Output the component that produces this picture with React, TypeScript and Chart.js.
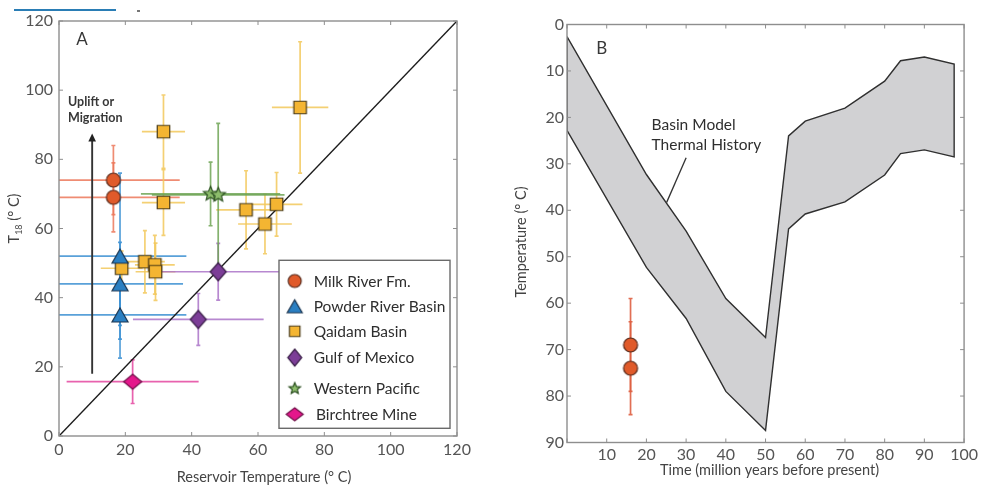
import { useEffect, useRef } from 'react';
import { Chart, registerables } from 'chart.js';

Chart.register(...registerables);

const FONT = 'Lato, "Open Sans", "Liberation Sans", sans-serif';
const TICK_COLOR = '#555';
const TEXT_COLOR = '#383838';
const FRAME_COLOR = '#8e8e8e';

type Obs = { x: number; y: number; xErr: number; yErr: number };

// ---------- Panel A: clumped-isotope temperature vs reservoir temperature (°C)
const milkRiver: Obs[] = [
  { x: 16.4, y: 74, xErr: 20, yErr: 10 },
  { x: 16.4, y: 69, xErr: 20, yErr: 10 },
];
const powderRiver: Obs[] = [
  { x: 18.4, y: 52, xErr: 20, yErr: 24 },
  { x: 18.4, y: 44, xErr: 19, yErr: 12 },
  { x: 18.4, y: 35, xErr: 20, yErr: 12.5 },
];
const qaidam: Obs[] = [
  { x: 31.5, y: 88, xErr: 6.5, yErr: 10.6 },
  { x: 31.5, y: 67.5, xErr: 6.5, yErr: 9.5 },
  { x: 72.7, y: 95, xErr: 8.5, yErr: 19 },
  { x: 56.4, y: 65.4, xErr: 9, yErr: 11.3 },
  { x: 62.1, y: 61.3, xErr: 8.1, yErr: 8.6 },
  { x: 65.6, y: 67, xErr: 7.8, yErr: 9.2 },
  { x: 18.9, y: 48.5, xErr: 6.3, yErr: 5 },
  { x: 25.9, y: 50.4, xErr: 6, yErr: 9 },
  { x: 28.9, y: 49.5, xErr: 6, yErr: 8.5 },
  { x: 29.1, y: 47.5, xErr: 6, yErr: 8.3 },
];
const gulfOfMexico: Obs[] = [
  { x: 48, y: 47.5, xErr: 20, yErr: 8.2 },
  { x: 42, y: 33.7, xErr: 19.7, yErr: 7.5 },
];
const westernPacific: Obs[] = [
  { x: 45.7, y: 70, xErr: 21, yErr: 9.2 },
  { x: 48, y: 69.7, xErr: 20, yErr: 20.7 },
];
const birchtreeMine: Obs[] = [{ x: 22.2, y: 15.7, xErr: 19.9, yErr: 6.3 }];

const seriesNames = [
  'Milk River Fm.',
  'Powder River Basin',
  'Qaidam Basin',
  'Gulf of Mexico',
  'Western Pacific',
  'Birchtree Mine',
];
const parityLine = [0, 120];
const upliftArrow = { x: 10, from: 18, to: 87.5 };
const upliftLabel = ['Uplift or', 'Migration'];

// ---------- Panel B: basin-model thermal history (depth band) vs time
const modelTime = [0, 20, 30, 40, 50, 55.8, 60, 70, 80, 84, 90, 97.5];
const modelShallowTemp = [2.6, 32.3, 44.5, 59, 67.4, 24, 20.8, 18, 12.2, 7.8, 7, 8.5];
const modelDeepTemp = [22.8, 52.3, 63.3, 79, 87.4, 44, 40.8, 38.2, 32.4, 27.8, 27, 28.5];
const milkRiverAge = [16, 16];
const milkRiverTemp = [69, 74];
const milkRiverTempErr = [10, 10];
const modelLabel = ['Basin Model', 'Thermal History'];
const modelLabelAnchor = { x: 21.3, y: [21.6, 26] };
const modelPointer = { x: [30, 25.1], y: [28.7, 38.3] };

type Shape = 'circle' | 'triangle' | 'square' | 'diamond' | 'star';

function makeMarker(shape: Shape, w: number, h: number, fill: string, stroke: string): HTMLCanvasElement {
  const pad = 2;
  const c = document.createElement('canvas');
  c.width = Math.ceil(w + pad * 2);
  c.height = Math.ceil(h + pad * 2);
  const g = c.getContext('2d')!;
  const cx = c.width / 2;
  const cy = c.height / 2;
  const rx = w / 2;
  const ry = h / 2;
  g.beginPath();
  if (shape === 'circle') g.ellipse(cx, cy, rx, ry, 0, 0, Math.PI * 2);
  else if (shape === 'square') g.rect(cx - rx, cy - ry, w, h);
  else if (shape === 'triangle') {
    g.moveTo(cx, cy - ry);
    g.lineTo(cx + rx, cy + ry);
    g.lineTo(cx - rx, cy + ry);
    g.closePath();
  } else if (shape === 'diamond') {
    g.moveTo(cx, cy - ry);
    g.lineTo(cx + rx, cy);
    g.lineTo(cx, cy + ry);
    g.lineTo(cx - rx, cy);
    g.closePath();
  } else {
    for (let i = 0; i < 10; i++) {
      const a = -Math.PI / 2 + (i * Math.PI) / 5;
      const r = i % 2 === 0 ? 1 : 0.45;
      const px = cx + Math.cos(a) * rx * r;
      const py = cy + Math.sin(a) * ry * r;
      if (i === 0) g.moveTo(px, py);
      else g.lineTo(px, py);
    }
    g.closePath();
  }
  g.fillStyle = fill;
  g.fill();
  g.lineWidth = 1.2;
  g.strokeStyle = stroke;
  g.stroke();
  return c;
}

type Series = { name: string; data: Obs[]; marker: HTMLCanvasElement; legendMarker: HTMLCanvasElement; errColor: string };

function drawErrorBars(chart: any, series: { data: Obs[]; errColor: string }[]) {
  const { ctx, chartArea: a, scales } = chart;
  const sx = scales.x;
  const sy = scales.y;
  ctx.save();
  ctx.beginPath();
  ctx.rect(a.left, a.top, a.right - a.left, a.bottom - a.top);
  ctx.clip();
  ctx.lineWidth = 1.7;
  const cap = 2;
  for (const s of series) {
    ctx.strokeStyle = s.errColor;
    for (const o of s.data) {
      const px = sx.getPixelForValue(o.x);
      const py = sy.getPixelForValue(o.y);
      ctx.beginPath();
      if (o.xErr) {
        ctx.moveTo(sx.getPixelForValue(o.x - o.xErr), py);
        ctx.lineTo(sx.getPixelForValue(o.x + o.xErr), py);
      }
      if (o.yErr) {
        const y0 = sy.getPixelForValue(o.y - o.yErr);
        const y1 = sy.getPixelForValue(o.y + o.yErr);
        ctx.moveTo(px, y0);
        ctx.lineTo(px, y1);
        ctx.moveTo(px - cap, y0);
        ctx.lineTo(px + cap, y0);
        ctx.moveTo(px - cap, y1);
        ctx.lineTo(px + cap, y1);
      }
      ctx.stroke();
    }
  }
  ctx.restore();
}

function drawFrame(chart: any, xTicks: number[], yTicks: number[]) {
  const { ctx, chartArea: a, scales } = chart;
  ctx.save();
  ctx.strokeStyle = FRAME_COLOR;
  ctx.lineWidth = 1.4;
  ctx.strokeRect(a.left, a.top, a.right - a.left, a.bottom - a.top);
  ctx.lineWidth = 1;
  const len = 4;
  ctx.beginPath();
  for (const v of xTicks) {
    const px = scales.x.getPixelForValue(v);
    ctx.moveTo(px, a.bottom);
    ctx.lineTo(px, a.bottom - len);
    ctx.moveTo(px, a.top);
    ctx.lineTo(px, a.top + len);
  }
  for (const v of yTicks) {
    const py = scales.y.getPixelForValue(v);
    ctx.moveTo(a.left, py);
    ctx.lineTo(a.left + len, py);
    ctx.moveTo(a.right, py);
    ctx.lineTo(a.right - len, py);
  }
  ctx.stroke();
  ctx.restore();
}

function range(min: number, max: number, step: number) {
  const out: number[] = [];
  for (let v = min; v <= max + 1e-9; v += step) out.push(v);
  return out;
}

const tickFont = { family: FONT, size: 16 };

export default function App() {
  const leftRef = useRef<HTMLCanvasElement>(null);
  const rightRef = useRef<HTMLCanvasElement>(null);

  useEffect(() => {
    const series: Series[] = [
      { name: seriesNames[0], data: milkRiver, marker: makeMarker('circle', 14, 14, '#e05a2a', '#55281a'), legendMarker: makeMarker('circle', 13, 13, '#e05a2a', '#55281a'), errColor: 'rgba(236,120,90,0.85)' },
      { name: seriesNames[1], data: powderRiver, marker: makeMarker('triangle', 16, 14, '#2a7fc2', '#1b3550'), legendMarker: makeMarker('triangle', 15, 13, '#2a7fc2', '#1b3550'), errColor: 'rgba(60,145,210,0.85)' },
      { name: seriesNames[2], data: qaidam, marker: makeMarker('square', 12.5, 12.5, '#f4b532', '#4a3b16'), legendMarker: makeMarker('square', 10.5, 10.5, '#f4b532', '#4a3b16'), errColor: 'rgba(242,200,90,0.85)' },
      { name: seriesNames[3], data: gulfOfMexico, marker: makeMarker('diamond', 16, 18, '#7c3e97', '#3a1f48'), legendMarker: makeMarker('diamond', 14, 17, '#7c3e97', '#3a1f48'), errColor: 'rgba(170,115,200,0.85)' },
      { name: seriesNames[4], data: westernPacific, marker: makeMarker('star', 15, 15, '#8dbd6c', '#2c5021'), legendMarker: makeMarker('star', 12, 12, '#8dbd6c', '#2c5021'), errColor: 'rgba(110,165,85,0.85)' },
      { name: seriesNames[5], data: birchtreeMine, marker: makeMarker('diamond', 18, 15, '#e4178b', '#6e0e47'), legendMarker: makeMarker('diamond', 17, 13, '#e4178b', '#6e0e47'), errColor: 'rgba(228,70,160,0.85)' },
    ];

    const xTicksA = range(0, 120, 20);
    const yTicksA = range(0, 120, 20);

    const panelA = {
      id: 'panelA',
      beforeDatasetsDraw(chart: any) {
        drawErrorBars(chart, series);
      },
      afterDraw(chart: any) {
        const { ctx, chartArea: a, scales } = chart;
        const sx = scales.x;
        const sy = scales.y;
        drawFrame(chart, xTicksA, yTicksA);
        ctx.save();
        // panel letter
        ctx.fillStyle = TEXT_COLOR;
        ctx.font = `17px ${FONT}`;
        ctx.textAlign = 'center';
        ctx.textBaseline = 'middle';
        ctx.fillText('A', a.left + 23, a.top + 19);

        // uplift arrow
        const ax = sx.getPixelForValue(upliftArrow.x);
        const ay0 = sy.getPixelForValue(upliftArrow.from);
        const ay1 = sy.getPixelForValue(upliftArrow.to);
        ctx.strokeStyle = '#333';
        ctx.lineWidth = 1.9;
        ctx.beginPath();
        ctx.moveTo(ax, ay0);
        ctx.lineTo(ax, ay1 + 6);
        ctx.stroke();
        ctx.fillStyle = '#222';
        ctx.beginPath();
        ctx.moveTo(ax, ay1);
        ctx.lineTo(ax + 3.8, ay1 + 8);
        ctx.lineTo(ax - 3.8, ay1 + 8);
        ctx.closePath();
        ctx.fill();
        ctx.fillStyle = TEXT_COLOR;
        ctx.font = `bold 12.5px ${FONT}`;
        ctx.textAlign = 'left';
        ctx.fillText(upliftLabel[0], sx.getPixelForValue(2.7), sy.getPixelForValue(96.7));
        ctx.fillText(upliftLabel[1], sx.getPixelForValue(2.7), sy.getPixelForValue(91.9));

        // legend box
        const bw = 171;
        const bh = 168;
        const bl = a.right - 7 - bw;
        const bt = a.bottom - 7.7 - bh;
        ctx.fillStyle = '#fff';
        ctx.fillRect(bl, bt, bw, bh);
        ctx.strokeStyle = '#6a6a6a';
        ctx.lineWidth = 1.4;
        ctx.strokeRect(bl, bt, bw, bh);
        const rows = [20.7, 46, 71, 97.3, 128.3, 154];
        ctx.save();
        ctx.beginPath();
        ctx.rect(bl, bt, bw - 1, bh);
        ctx.clip();
        ctx.font = `15.5px ${FONT}`;
        ctx.fillStyle = '#2e2e2e';
        ctx.textBaseline = 'middle';
        series.forEach((s, i) => {
          const cy = bt + rows[i];
          const m = s.legendMarker;
          ctx.drawImage(m, bl + 15.7 - m.width / 2, cy - m.height / 2);
          ctx.fillText(s.name, bl + (i === 5 ? 37 : 34.7), cy + 0.5);
        });
        ctx.restore();

        // axis titles
        ctx.fillStyle = '#444';
        ctx.font = `14.5px ${FONT}`;
        ctx.textAlign = 'center';
        ctx.textBaseline = 'middle';
        ctx.fillText('Reservoir Temperature (° C)', (a.left + a.right) / 2 + 6, a.bottom + 41);

        ctx.save();
        ctx.translate(a.left - 45, (a.top + a.bottom) / 2 - 10);
        ctx.rotate(-Math.PI / 2);
        const main = 'T';
        const sub = '18';
        const rest = ' (° C)';
        ctx.font = `14.5px ${FONT}`;
        const wMain = ctx.measureText(main).width;
        const wRest = ctx.measureText(rest).width;
        ctx.font = `9px ${FONT}`;
        const wSub = ctx.measureText(sub).width;
        let cx = -(wMain + wSub + wRest) / 2;
        ctx.textAlign = 'left';
        ctx.textBaseline = 'alphabetic';
        ctx.font = `14.5px ${FONT}`;
        ctx.fillText(main, cx, 5);
        cx += wMain;
        ctx.font = `9px ${FONT}`;
        ctx.fillText(sub, cx, 8);
        cx += wSub;
        ctx.font = `14.5px ${FONT}`;
        ctx.fillText(rest, cx, 5);
        ctx.restore();
        ctx.restore();
      },
    };

    const chartA = new Chart(leftRef.current!, {
      type: 'scatter',
      data: {
        datasets: [
          {
            data: parityLine.map((v) => ({ x: v, y: v })),
            showLine: true,
            borderColor: '#1c1c1c',
            borderWidth: 1.4,
            pointRadius: 0,
            order: 10,
          } as any,
          ...series.map((s) => ({
            label: s.name,
            data: s.data.map((o) => ({ x: o.x, y: o.y })),
            pointStyle: s.marker,
            pointRadius: 8,
            order: 0,
          })),
        ],
      },
      options: {
        animation: false,
        responsive: false,
        events: [],
        layout: { padding: { top: 21, right: 33, left: 0, bottom: 0 } },
        plugins: { legend: { display: false }, tooltip: { enabled: false } },
        scales: {
          x: {
            type: 'linear',
            min: 0,
            max: 120,
            ticks: { stepSize: 20, font: tickFont, color: TICK_COLOR, padding: 4, maxRotation: 0 },
            grid: { display: false, drawTicks: false },
            border: { display: false },
            afterFit: (s: any) => {
              s.height = 55;
            },
          },
          y: {
            type: 'linear',
            min: 0,
            max: 120,
            ticks: { stepSize: 20, font: tickFont, color: TICK_COLOR, padding: 6 },
            grid: { display: false, drawTicks: false },
            border: { display: false },
            afterFit: (s: any) => {
              s.width = 59;
            },
          },
        },
      } as any,
      plugins: [panelA],
    });

    // ---------- Panel B
    const bandPolygon = [
      ...modelTime.map((t, i) => ({ x: t, y: modelShallowTemp[i] })),
      ...modelTime.map((t, i) => ({ x: t, y: modelDeepTemp[i] })).reverse(),
    ];
    bandPolygon.push({ ...bandPolygon[0] });
    const milkRiverB = milkRiverAge.map((t, i) => ({ x: t, y: milkRiverTemp[i], xErr: 0, yErr: milkRiverTempErr[i] }));
    const xTicksB = range(0, 100, 10);
    const yTicksB = range(0, 90, 10);

    const panelB = {
      id: 'panelB',
      beforeDatasetsDraw(chart: any) {
        drawErrorBars(chart, [{ data: milkRiverB, errColor: 'rgba(222,95,65,0.9)' }]);
      },
      afterDraw(chart: any) {
        const { ctx, chartArea: a, scales } = chart;
        const sx = scales.x;
        const sy = scales.y;
        drawFrame(chart, xTicksB, yTicksB);
        ctx.save();
        ctx.fillStyle = TEXT_COLOR;
        ctx.font = `17px ${FONT}`;
        ctx.textAlign = 'center';
        ctx.textBaseline = 'middle';
        ctx.fillText('B', a.left + 34.7, a.top + 23.8);

        ctx.strokeStyle = '#333';
        ctx.lineWidth = 1.3;
        ctx.beginPath();
        ctx.moveTo(sx.getPixelForValue(modelPointer.x[0]), sy.getPixelForValue(modelPointer.y[0]));
        ctx.lineTo(sx.getPixelForValue(modelPointer.x[1]), sy.getPixelForValue(modelPointer.y[1]));
        ctx.stroke();

        ctx.font = `15.5px ${FONT}`;
        ctx.fillStyle = '#2e2e2e';
        ctx.textAlign = 'left';
        modelLabel.forEach((t, i) => {
          ctx.fillText(t, sx.getPixelForValue(modelLabelAnchor.x), sy.getPixelForValue(modelLabelAnchor.y[i]));
        });

        ctx.fillStyle = '#444';
        ctx.font = `14.5px ${FONT}`;
        ctx.textAlign = 'center';
        ctx.fillText('Time (million years before present)', (a.left + a.right) / 2 + 4, a.bottom + 28);
        ctx.save();
        ctx.translate(a.left - 45.3, (a.top + a.bottom) / 2 + 8.5);
        ctx.rotate(-Math.PI / 2);
        ctx.fillText('Temperature (° C)', 0, 0);
        ctx.restore();
        ctx.restore();
      },
    };

    const chartB = new Chart(rightRef.current!, {
      type: 'scatter',
      data: {
        datasets: [
          {
            label: 'Basin Model Thermal History',
            data: bandPolygon,
            showLine: true,
            fill: 'shape',
            backgroundColor: '#d1d1d3',
            borderColor: '#303030',
            borderWidth: 1.4,
            pointRadius: 0,
            order: 5,
          } as any,
          {
            label: seriesNames[0],
            data: milkRiverB.map((o) => ({ x: o.x, y: o.y })),
            pointStyle: series[0].marker,
            pointRadius: 8,
            order: 0,
          },
        ],
      },
      options: {
        animation: false,
        responsive: false,
        events: [],
        layout: { padding: { top: 24.5, right: 15.5, left: 0, bottom: 0 } },
        plugins: { legend: { display: false }, tooltip: { enabled: false } },
        scales: {
          x: {
            type: 'linear',
            min: 0,
            max: 100,
            ticks: {
              stepSize: 10,
              font: tickFont,
              color: TICK_COLOR,
              padding: 3,
              maxRotation: 0,
              callback: (v: any) => (v === 0 ? '' : String(v)),
            },
            grid: { display: false, drawTicks: false },
            border: { display: false },
            afterFit: (s: any) => {
              s.height = 48.5;
            },
          },
          y: {
            type: 'linear',
            reverse: true,
            min: 0,
            max: 90,
            ticks: { stepSize: 10, font: tickFont, color: TICK_COLOR, padding: 3 },
            grid: { display: false, drawTicks: false },
            border: { display: false },
            afterFit: (s: any) => {
              s.width = 77;
            },
          },
        },
      } as any,
      plugins: [panelB],
    });

    return () => {
      chartA.destroy();
      chartB.destroy();
    };
  }, []);

  return (
    <div style={{ position: 'fixed', left: 0, top: 0, width: 981, height: 491, background: '#fff', overflow: 'hidden' }}>
      <div style={{ position: 'absolute', left: 14, top: 9, width: 102, height: 2, background: '#2a7db5' }} />
      <div style={{ position: 'absolute', left: 137, top: 10, width: 3, height: 1.5, background: '#777' }} />
      <canvas ref={leftRef} width={490} height={491} style={{ position: 'absolute', left: 0, top: 0 }} />
      <canvas ref={rightRef} width={491} height={491} style={{ position: 'absolute', left: 490, top: 0 }} />
    </div>
  );
}
